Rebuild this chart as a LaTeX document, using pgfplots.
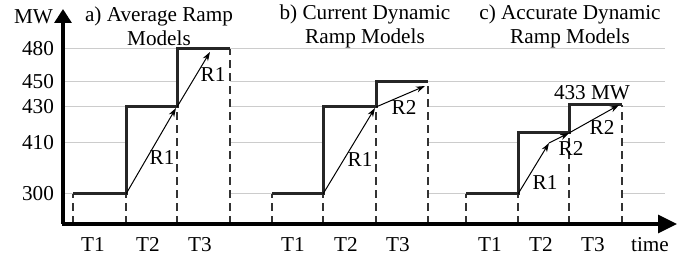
\documentclass[border=0pt]{standalone}
\usepackage{pgfplots}
\pgfplotsset{compat=1.18}
\usepackage{fontspec}
\setmainfont{Liberation Serif}
\usetikzlibrary{arrows.meta}
\definecolor{stepc}{HTML}{262626}
\definecolor{gridc}{HTML}{CCCCCC}
\definecolor{dashc}{HTML}{333333}
\begin{document}
\begin{tikzpicture}[font=\fontsize{10.6}{12.5}\selectfont]
\begin{axis}[
  x=0.5pt, y=0.5pt,
  xmin=63, xmax=665, ymin=0, ymax=212,
  axis lines=left, axis line style={draw=none},
  tick style={draw=none}, major tick length=0pt,
  clip=false,
  ytick={30,81,117,142,175},
  yticklabels={300,410,430,450,480},
  xtick={93,148,200,293,346,398,490,541,593,650},
  xticklabels={T1,T2,T3,T1,T2,T3,T1,T2,T3,time},
  ymajorgrids, grid style={gridc, line width=0.5pt},
  every tick label/.append style={font=\fontsize{10.6}{12.5}\selectfont},
  xticklabel style={yshift=-3pt},
  yticklabel style={xshift=-1pt},
  /pgf/number format/assume math mode=true,
]
% white areas under the step curves (hide grid lines)
\addplot[fill=white, draw=none] coordinates {(73,0)(73,30)(126,30)(126,117)(177,117)(177,175)(230,175)(230,0)};
\addplot[fill=white, draw=none] coordinates {(272,0)(272,30)(323,30)(323,117)(376,117)(376,142)(428,142)(428,0)};
\addplot[fill=white, draw=none] coordinates {(466,0)(466,30)(518,30)(518,91)(569,91)(569,119)(622,119)(622,0)};
% dashed period boundaries
\pgfplotsset{dl/.style={dashc, line width=0.55pt, dash pattern=on 4pt off 2.5pt}}
\addplot[dl] coordinates {(73,0)(73,30)};
\addplot[dl] coordinates {(126,0)(126,30)};
\addplot[dl] coordinates {(177,0)(177,117)};
\addplot[dl] coordinates {(230,0)(230,175)};
\addplot[dl] coordinates {(272,0)(272,30)};
\addplot[dl] coordinates {(323,0)(323,30)};
\addplot[dl] coordinates {(376,0)(376,117)};
\addplot[dl] coordinates {(428,0)(428,142)};
\addplot[dl] coordinates {(466,0)(466,30)};
\addplot[dl] coordinates {(518,0)(518,30)};
\addplot[dl] coordinates {(569,0)(569,91)};
\addplot[dl] coordinates {(622,0)(622,119)};
% step schedules
\addplot[stepc, line width=1.5pt] coordinates {(73,30)(126,30)(126,117)(177,117)(177,175)(230,175)};
\addplot[stepc, line width=1.5pt] coordinates {(272,30)(323,30)(323,117)(376,117)(376,142)(428,142)};
\addplot[stepc, line width=1.5pt] coordinates {(466,30)(518,30)(518,91)(569,91)(569,119)(622,119)};
% ramp arrows
\pgfplotsset{ra/.style={black, line width=0.5pt, -{Stealth[length=4.5pt,width=3pt]}}}
\addplot[ra] coordinates {(126,30)(176,116)};
\addplot[ra] coordinates {(177,117)(210,172)};
\addplot[ra] coordinates {(323,30)(375,116)};
\addplot[ra] coordinates {(376,117)(425,138)};
\addplot[ra] coordinates {(518,30)(549,81)};
\addplot[ra] coordinates {(549,81)(569,91)};
\addplot[ra] coordinates {(569,91)(619,119)};
% labels
\node at (axis cs:162,66) {R1};
\node at (axis cs:213,149) {R1};
\node at (axis cs:360,64) {R1};
\node at (axis cs:404,117) {R2};
\node at (axis cs:545,41) {R1};
\node at (axis cs:571,76) {R2};
\node at (axis cs:602,97) {R2};
\node at (axis cs:592,131) {433 MW};
\node[align=center, inner sep=0pt, font=\fontsize{10.6}{12.2}\selectfont] at (axis cs:159,197.5) {a) Average Ramp\\Models};
\node[align=center, inner sep=0pt, font=\fontsize{10.6}{12.2}\selectfont] at (axis cs:365,197.5) {b) Current Dynamic\\Ramp Models};
\node[align=center, inner sep=0pt, font=\fontsize{10.6}{12.2}\selectfont] at (axis cs:570,197.5) {c) Accurate Dynamic\\Ramp Models};
\node[inner sep=0pt] at (axis cs:33.5,207) {MW};
% axes with arrows
\draw[black, line width=1.6pt, -{Triangle[length=7pt,width=8.5pt]}] (axis cs:63,0) -- (axis cs:63,215);
\draw[black, line width=1.6pt, -{Triangle[length=9.5pt,width=9pt]}] (axis cs:61.5,0) -- (axis cs:677,0);
% picture extent
\path (axis cs:0,-37) rectangle (axis cs:699,224);
\end{axis}
\end{tikzpicture}
\end{document}
